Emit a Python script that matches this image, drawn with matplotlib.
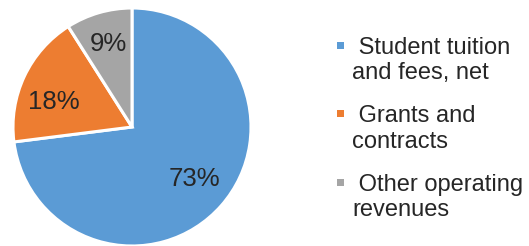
import matplotlib.pyplot as plt
from matplotlib.patches import Rectangle

# data
labels = ['Student tuition\nand fees, net', 'Grants and\ncontracts', 'Other operating\nrevenues']
shares = [73, 18, 9]
colors = ['#5B9BD5', '#ED7D31', '#A5A5A5']

plt.rcParams['font.family'] = ['Liberation Sans', 'DejaVu Sans']

W, H = 529, 246
fig = plt.figure(figsize=(W / 100, H / 100), dpi=100)

# pie axes: centre (132,127) px, radius 119 px
cx, cy, r = 132, 127, 119
ax = fig.add_axes([(cx - r) / W, (H - cy - r) / H, 2 * r / W, 2 * r / H])
wedges, texts, autotexts = ax.pie(
    shares, colors=colors, startangle=90, counterclock=False,
    autopct='%d%%', pctdistance=0.7,
    wedgeprops=dict(edgecolor='white', linewidth=2.2),
    textprops=dict(fontsize=18.5, color='#262626'))
ax.set_xlim(-1, 1)
ax.set_ylim(-1, 1)

# small nudges so labels sit where the original puts them
nudges = [(0, 0.025), (-0.02, -0.085), (0, 0.025)]
for t, (dx, dy) in zip(autotexts, nudges):
    x, y = t.get_position()
    t.set_position((x + dx, y + dy))

# legend drawn by hand so the marker sits on the first line
first_base = [53, 121, 190]
for lab, col, yb in zip(labels, colors, first_base):
    ymark = yb - 8
    fig.patches.append(Rectangle((337 / W, (H - ymark - 3.5) / H), 7 / W, 7 / H,
                                 transform=fig.transFigure, facecolor=col,
                                 edgecolor='none'))
    fig.text(352 / W, (H - yb - 26.5) / H, ' ' + lab, fontsize=17, color='#262626',
             va='baseline', ha='left', linespacing=1.2)

fig.savefig('out.png', dpi=100)
